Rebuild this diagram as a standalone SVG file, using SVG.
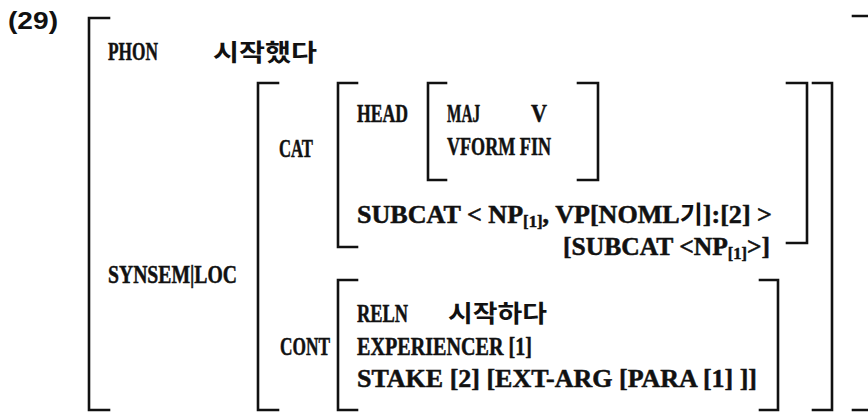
<svg xmlns="http://www.w3.org/2000/svg" width="868" height="413" viewBox="0 0 868 413">
<style>
.br{fill:none;stroke:#111;stroke-width:2.6;stroke-linecap:square;stroke-linejoin:miter}
.t{font-family:"Liberation Serif","DejaVu Serif",serif;font-weight:bold;font-size:25px;fill:#111;stroke:#111;stroke-width:0.5}
.s{font-size:16px}
.k{font-family:"Noto Sans CJK KR","Noto Sans",sans-serif;font-weight:bold;font-size:24px;fill:#111;stroke:none}
.n{font-family:"Liberation Sans","DejaVu Sans",sans-serif;font-weight:bold;font-size:23px;fill:#111}
</style>
<rect width="868" height="413" fill="#fff"/>
<g id="label"><text class="n" x="8" y="29" textLength="50" lengthAdjust="spacingAndGlyphs">(29)</text></g>
<g id="brackets">
<path class="br" d="M109,18 H89 V410 H109"/>
<path class="br" d="M853,16 H868 M853,410 H868"/>
<path class="br" d="M278,83 H258 V410 H278"/>
<path class="br" d="M813,83 H832 V410 H813"/>
<path class="br" d="M357,83 H338 V247 H357"/>
<path class="br" d="M787,83 H807 V243 H787"/>
<path class="br" d="M446,83 H428 V180 H446"/>
<path class="br" d="M578,83 H598 V180 H578"/>
<path class="br" d="M357,280 H338 V410 H357"/>
<path class="br" d="M760,280 H778 V410 H760"/>
</g>
<g id="phon">
<text class="t" x="108" y="60" textLength="50" lengthAdjust="spacingAndGlyphs">PHON</text>
<text class="k" x="213" y="61" textLength="104" lengthAdjust="spacingAndGlyphs">시작했다</text>
</g>
<g id="synsem">
<text class="t" x="108" y="283" textLength="129" lengthAdjust="spacingAndGlyphs">SYNSEM|LOC</text>
</g>
<g id="cat">
<text class="t" x="279" y="157" textLength="34" lengthAdjust="spacingAndGlyphs">CAT</text>
<text class="t" x="357" y="122" textLength="51" lengthAdjust="spacingAndGlyphs">HEAD</text>
<text class="t" x="447" y="122" textLength="33" lengthAdjust="spacingAndGlyphs">MAJ</text>
<text class="t" x="531" y="122" textLength="16" lengthAdjust="spacingAndGlyphs">V</text>
<text class="t" x="447" y="155" textLength="104" lengthAdjust="spacingAndGlyphs">VFORM FIN</text>
<text class="t" x="357" y="223" textLength="415" lengthAdjust="spacingAndGlyphs">SUBCAT &lt; NP<tspan class="s" dy="4">[1]</tspan><tspan dy="-4">, VP[NOML</tspan><tspan class="k">기</tspan><tspan>]:[2] &gt;</tspan></text>
<text class="t" x="563" y="255" textLength="207" lengthAdjust="spacingAndGlyphs">[SUBCAT &lt;NP<tspan class="s" dy="4">[1]</tspan><tspan dy="-4">&gt;]</tspan></text>
</g>
<g id="cont">
<text class="t" x="280" y="355" textLength="50" lengthAdjust="spacingAndGlyphs">CONT</text>
<text class="t" x="357" y="322" textLength="51" lengthAdjust="spacingAndGlyphs">RELN</text>
<text class="k" x="448" y="322" textLength="99" lengthAdjust="spacingAndGlyphs">시작하다</text>
<text class="t" x="357" y="355" textLength="175" lengthAdjust="spacingAndGlyphs">EXPERIENCER [1]</text>
<text class="t" x="357" y="387" textLength="400" lengthAdjust="spacingAndGlyphs">STAKE [2] [EXT-ARG [PARA [1] ]]</text>
</g>
</svg>
